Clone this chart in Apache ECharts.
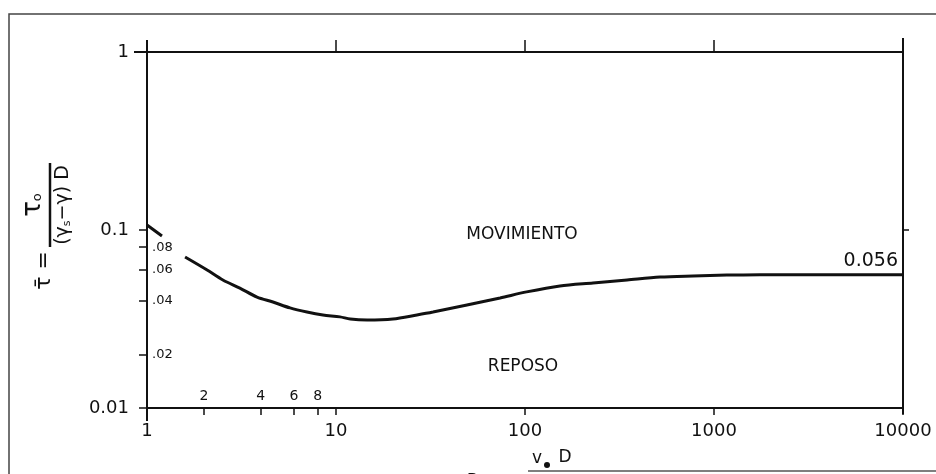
<!DOCTYPE html>
<html>
<head>
<meta charset="utf-8">
<script src="https://cdn.jsdelivr.net/npm/echarts@6/dist/echarts.min.js"></script>
<style>
  html, body { margin: 0; padding: 0; background: #fff; }
  #main { width: 936px; height: 474px; }
</style>
</head>
<body>
<div id="main"></div>
<script>
// Shields curve (null = gap behind the .08/.06 labels)
const reynolds = [1, 1.2, 1.4, 1.59, 2.08, 2.52, 3.1, 3.82, 4.64, 5.71, 7.02, 8.53, 10.5, 11.9, 14.6, 20, 26.8, 32.6, 49.3, 73.8, 102, 153, 229, 347, 518, 774, 1170, 1750, 10000];
const shields = [0.1067, 0.0925, null, 0.0705, 0.0596, 0.0524, 0.0472, 0.042, 0.0394, 0.0365, 0.0346, 0.0333, 0.0325, 0.0316, 0.0312, 0.0316, 0.0333, 0.0346, 0.0379, 0.0415, 0.0449, 0.0485, 0.0504, 0.0524, 0.0544, 0.0552, 0.0558, 0.056, 0.056];

const xMajor = [1, 10, 100, 1000, 10000];
const xMinor = [2, 4, 6, 8];
const yMajor = [0.01, 0.1, 1];
const yMinor = [0.02, 0.04, 0.06, 0.08];

const ink = '#111';
const font = 'DejaVu Sans';

const chart = echarts.init(document.getElementById('main'));

const curve = reynolds.map((r, i) => [r, shields[i] == null ? '-' : shields[i]]);

const logX = { type: 'log', logBase: 10, min: 1, max: 10000, splitLine: { show: false } };
const logY = { type: 'log', logBase: 10, min: 0.01, max: 1, splitLine: { show: false } };

chart.setOption({
  animation: false,
  grid: { left: 147, right: 33, top: 52, bottom: 66 },
  xAxis: [
    Object.assign({}, logX, {
      position: 'bottom',
      axisLine: { lineStyle: { color: ink, width: 2 } },
      axisTick: { customValues: [1, 2, 4, 6, 8, 10, 100, 1000, 10000], length: 7, lineStyle: { color: ink, width: 1.5 } },
      axisLabel: { customValues: xMajor, color: ink, fontFamily: font, fontSize: 18, margin: 14, formatter: v => String(Math.round(v)) }
    }),
    Object.assign({}, logX, {
      position: 'bottom',
      axisLine: { show: false },
      axisTick: { show: false },
      axisLabel: { inside: true, customValues: xMinor, color: ink, fontFamily: font, fontSize: 14, margin: 5, formatter: v => String(Math.round(v)) }
    }),
    Object.assign({}, logX, {
      position: 'top',
      axisLine: { lineStyle: { color: ink, width: 2 } },
      axisTick: { customValues: [10, 100, 1000], length: 12, lineStyle: { color: ink, width: 1.5 } },
      axisLabel: { show: false }
    })
  ],
  yAxis: [
    Object.assign({}, logY, {
      position: 'left',
      axisLine: { lineStyle: { color: ink, width: 2 } },
      axisTick: { customValues: [0.01, 0.02, 0.04, 0.06, 0.08, 0.1, 1], length: 8, lineStyle: { color: ink, width: 1.5 } },
      axisLabel: { customValues: yMajor, color: ink, fontFamily: font, fontSize: 18, margin: 18, formatter: v => String(+v.toPrecision(3)) }
    }),
    Object.assign({}, logY, {
      position: 'left',
      axisLine: { show: false },
      axisTick: { inside: true, customValues: [0.01, 1], length: 12, lineStyle: { color: ink, width: 1.5 } },
      axisLabel: { inside: true, customValues: yMinor, color: ink, fontFamily: font, fontSize: 13, margin: 5,
        formatter: v => '.' + String(Math.round(v * 100)).padStart(2, '0') }
    }),
    Object.assign({}, logY, {
      position: 'right',
      axisLine: { lineStyle: { color: ink, width: 2 } },
      axisTick: { customValues: [0.1], length: 6, lineStyle: { color: ink, width: 1.5 } },
      axisLabel: { show: false }
    })
  ],
  series: [{
    type: 'line',
    xAxisIndex: 0,
    yAxisIndex: 0,
    data: curve,
    smooth: 0.3,
    connectNulls: false,
    symbol: 'none',
    lineStyle: { color: ink, width: 3 }
  }],
  graphic: [
    // scanned page frame
    { type: 'polyline', shape: { points: [[9, 474], [9, 14], [936, 14]] }, style: { stroke: '#444', lineWidth: 1.5, fill: null } },
    // axis overshoots
    { type: 'line', shape: { x1: 147, y1: 40, x2: 147, y2: 52 }, style: { stroke: ink, lineWidth: 2 } },
    { type: 'line', shape: { x1: 147, y1: 408, x2: 147, y2: 421 }, style: { stroke: ink, lineWidth: 2 } },
    { type: 'line', shape: { x1: 903, y1: 38, x2: 903, y2: 52 }, style: { stroke: ink, lineWidth: 2 } },
    { type: 'line', shape: { x1: 903, y1: 408, x2: 903, y2: 414 }, style: { stroke: ink, lineWidth: 2 } },
    { type: 'line', shape: { x1: 134, y1: 52, x2: 147, y2: 52 }, style: { stroke: ink, lineWidth: 2 } },
    { type: 'text', x: 522, y: 235, style: { text: 'MOVIMIENTO', font: '17px "DejaVu Sans"', fill: ink, align: 'center', verticalAlign: 'middle' } },
    { type: 'text', x: 523, y: 367, style: { text: 'REPOSO', font: '17px "DejaVu Sans"', fill: ink, align: 'center', verticalAlign: 'middle' } },
    { type: 'text', x: 898, y: 261, style: { text: '0.056', font: '19px "DejaVu Sans"', fill: ink, align: 'right', verticalAlign: 'middle' } },
    // y axis title, rotated
    {
      type: 'group', x: 50, y: 205, rotation: Math.PI / 2,
      children: [
        { type: 'line', shape: { x1: -42, y1: 0, x2: 42, y2: 0 }, style: { stroke: ink, lineWidth: 2.5 } },
        { type: 'text', x: 0, y: -4, style: { text: '{a|τ}{b|o}', align: 'center', verticalAlign: 'bottom', fill: ink,
          rich: { a: { fontFamily: font, fontSize: 26, fill: ink }, b: { fontFamily: font, fontSize: 13, fill: ink, padding: [10, 0, 0, 0] } } } },
        { type: 'text', x: 0, y: 4, style: { text: '{c|(γ}{d|s}{c|−γ) D}', align: 'center', verticalAlign: 'top', fill: ink,
          rich: { c: { fontFamily: font, fontSize: 19, fill: ink }, d: { fontFamily: font, fontSize: 11, fill: ink, padding: [8, 0, 0, 0] } } } },
        { type: 'text', x: -46, y: -6, style: { text: 'τ̄ =', font: '22px "DejaVu Sans"', fill: ink, align: 'right', verticalAlign: 'middle' } }
      ]
    },
    // x axis title, cut by the page edge
    { type: 'text', x: 537, y: 459, style: { text: 'v', font: '17px "DejaVu Sans"', fill: ink, align: 'center', verticalAlign: 'middle' } },
    { type: 'circle', shape: { cx: 547, cy: 465, r: 3 }, style: { fill: ink } },
    { type: 'text', x: 565, y: 458, style: { text: 'D', font: '17px "DejaVu Sans"', fill: ink, align: 'center', verticalAlign: 'middle' } },
    { type: 'text', x: 473, y: 481, style: { text: 'R', font: '18px "DejaVu Sans"', fill: ink, align: 'center', verticalAlign: 'middle' } },
    { type: 'line', shape: { x1: 528, y1: 471, x2: 936, y2: 471 }, style: { stroke: '#555', lineWidth: 1.5 } }
  ]
});
</script>
</body>
</html>
